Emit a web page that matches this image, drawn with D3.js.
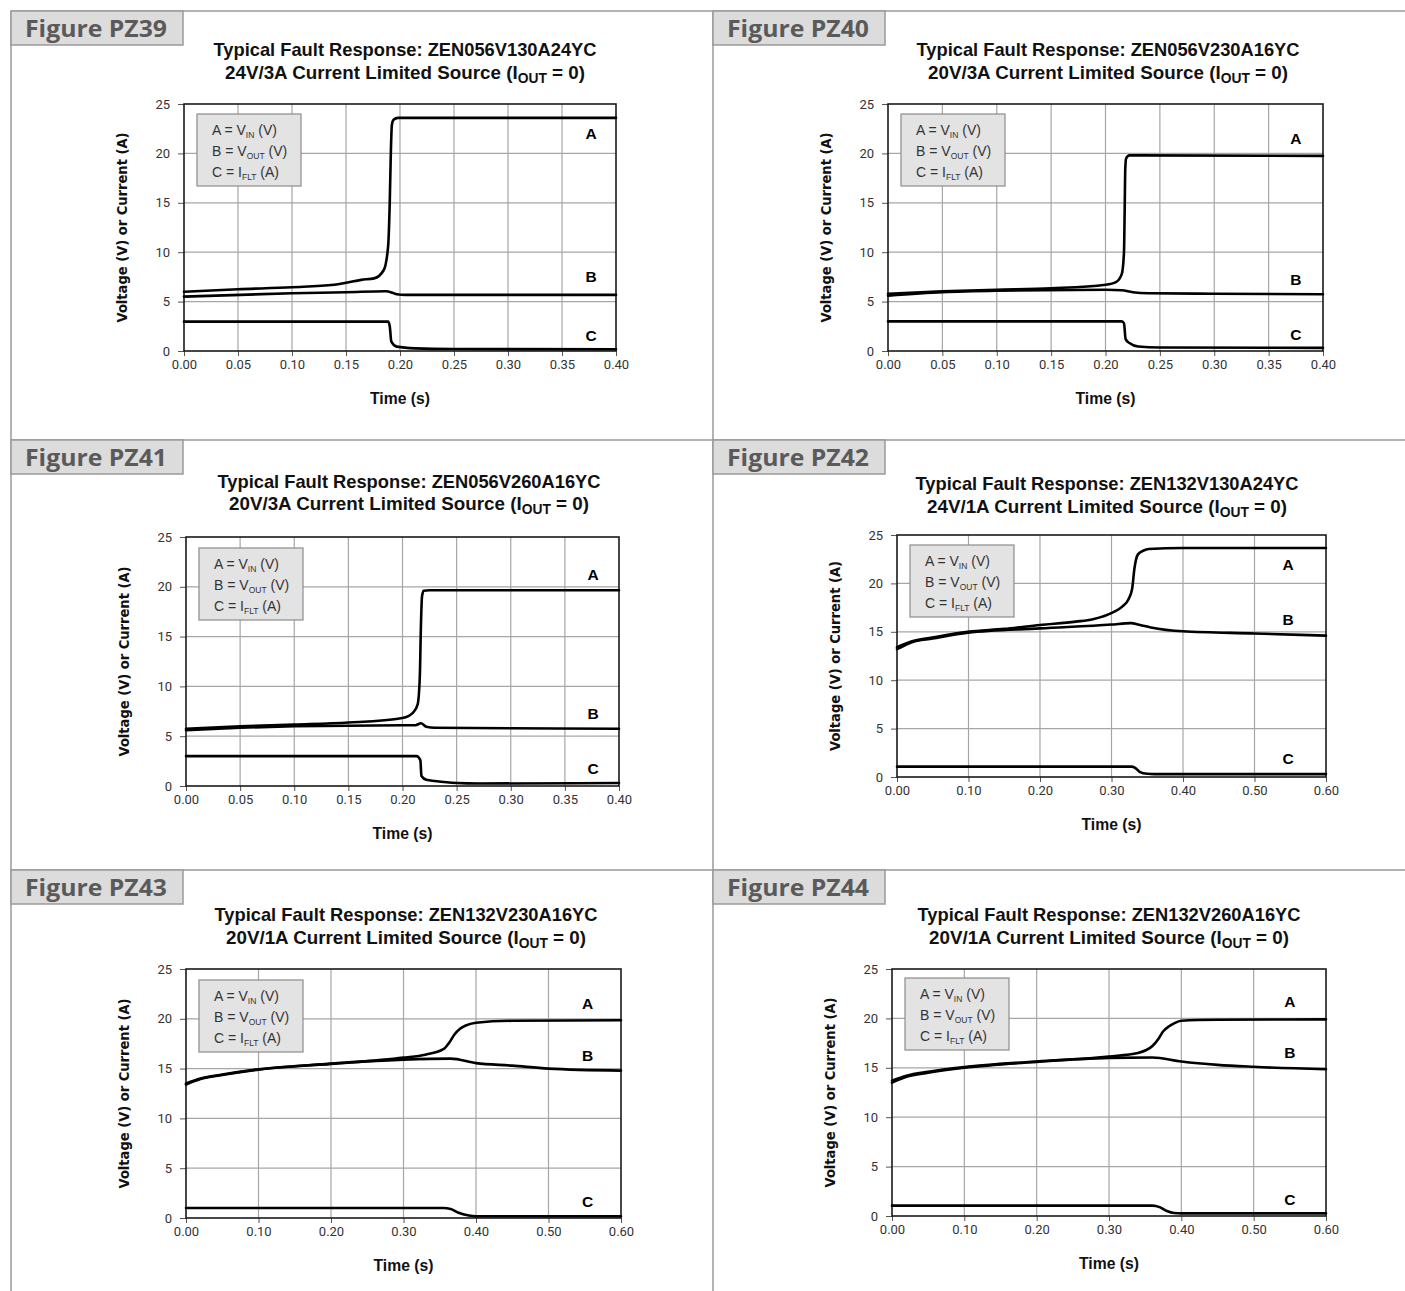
<!DOCTYPE html>
<html><head><meta charset="utf-8">
<script src="https://cdn.jsdelivr.net/npm/d3@7"></script>
<style>body{margin:0;background:#fff}svg{display:block}</style>
</head><body>
<svg id="c" width="1405" height="1291"></svg>
<script>
// ---------- DATA ----------
const figureNames = ["PZ39", "PZ40", "PZ41", "PZ42", "PZ43", "PZ44"];
const partNumbers = ["ZEN056V130A24YC", "ZEN056V230A16YC", "ZEN056V260A16YC", "ZEN132V130A24YC", "ZEN132V230A16YC", "ZEN132V260A16YC"];
const sourceRatings = ["24V/3A", "20V/3A", "20V/3A", "24V/1A", "20V/1A", "20V/1A"];
const xMaxes = [0.4, 0.4, 0.4, 0.6, 0.6, 0.6];
const xTicksShort = [0, 0.05, 0.10, 0.15, 0.20, 0.25, 0.30, 0.35, 0.40];
const xTicksLong = [0, 0.10, 0.20, 0.30, 0.40, 0.50, 0.60];
const yTicks = [0, 5, 10, 15, 20, 25];
const seriesNames = ["A", "B", "C"];
const legendMain = ["A = V", "B = V", "C = I"];
const legendSub = ["IN", "OUT", "FLT"];
const legendUnit = ["(V)", "(V)", "(A)"];

// PZ39
const pz39_tA = [0, 0.05, 0.10, 0.139, 0.150, 0.164, 0.176, 0.185, 0.189, 0.1905, 0.1915, 0.1925, 0.194, 0.198, 0.22, 0.40];
const pz39_vA = [6.0, 6.25, 6.45, 6.7, 6.9, 7.2, 7.35, 8.2, 10.6, 15, 20, 22.9, 23.4, 23.6, 23.6, 23.6];
const pz39_tB = [0, 0.10, 0.15, 0.187, 0.193, 0.197, 0.205, 0.40];
const pz39_vB = [5.5, 5.85, 5.95, 6.05, 5.9, 5.74, 5.68, 5.68];
const pz39_tC = [0, 0.189, 0.1905, 0.192, 0.197, 0.214, 0.25, 0.40];
const pz39_vC = [2.97, 2.97, 2.5, 0.95, 0.44, 0.27, 0.2, 0.17];
// PZ40
const pz40_tA = [0, 0.05, 0.10, 0.15, 0.20, 0.21, 0.215, 0.217, 0.2176, 0.2182, 0.219, 0.222, 0.23, 0.40];
const pz40_vA = [5.8, 6.05, 6.2, 6.35, 6.7, 7.0, 7.8, 10, 14, 18.5, 19.5, 19.8, 19.8, 19.75];
const pz40_tB = [0, 0.05, 0.10, 0.20, 0.215, 0.225, 0.24, 0.30, 0.40];
const pz40_vB = [5.6, 5.95, 6.1, 6.2, 6.15, 5.95, 5.85, 5.8, 5.75];
const pz40_tC = [0, 0.215, 0.217, 0.2185, 0.222, 0.23, 0.25, 0.40];
const pz40_vC = [3.0, 3.0, 2.8, 1.2, 0.8, 0.45, 0.35, 0.32];
// PZ41
const pz41_tA = [0, 0.05, 0.10, 0.15, 0.20, 0.21, 0.214, 0.216, 0.217, 0.218, 0.2195, 0.225, 0.40];
const pz41_vA = [5.75, 6.0, 6.17, 6.37, 6.83, 7.4, 8.2, 11, 16, 19.0, 19.6, 19.65, 19.65];
const pz41_tB = [0, 0.05, 0.10, 0.20, 0.212, 0.217, 0.222, 0.23, 0.30, 0.40];
const pz41_vB = [5.6, 5.85, 6.0, 6.1, 6.1, 6.3, 5.95, 5.85, 5.8, 5.75];
const pz41_tC = [0, 0.213, 0.2165, 0.2175, 0.222, 0.23, 0.25, 0.27, 0.40];
const pz41_vC = [3.0, 3.0, 2.6, 1.0, 0.62, 0.5, 0.3, 0.25, 0.3];
// PZ42
const pz42_tA = [0, 0.02, 0.049, 0.099, 0.15, 0.20, 0.25, 0.274, 0.302, 0.315, 0.324, 0.329, 0.332, 0.337, 0.345, 0.352, 0.40, 0.60];
const pz42_vA = [13.4, 14.0, 14.4, 15.0, 15.3, 15.7, 16.05, 16.3, 17.0, 17.6, 18.4, 19.5, 21.5, 23.0, 23.4, 23.55, 23.65, 23.65];
const pz42_tB = [0, 0.02, 0.05, 0.099, 0.20, 0.30, 0.327, 0.34, 0.355, 0.40, 0.50, 0.60];
const pz42_vB = [13.2, 13.9, 14.3, 14.9, 15.35, 15.75, 15.9, 15.7, 15.45, 15.05, 14.83, 14.6];
const pz42_tC = [0, 0.328, 0.333, 0.34, 0.35, 0.36, 0.60];
const pz42_vC = [1.07, 1.07, 0.95, 0.5, 0.33, 0.3, 0.3];
// PZ43
const pz43_tA = [0, 0.02, 0.05, 0.10, 0.20, 0.30, 0.33, 0.355, 0.363, 0.37, 0.378, 0.385, 0.40, 0.45, 0.60];
const pz43_vA = [13.5, 14.0, 14.4, 14.93, 15.47, 16.1, 16.4, 16.95, 17.6, 18.4, 19.0, 19.3, 19.6, 19.8, 19.85];
const pz43_tB = [0, 0.02, 0.05, 0.10, 0.20, 0.30, 0.365, 0.40, 0.45, 0.50, 0.60];
const pz43_vB = [13.4, 13.95, 14.35, 14.9, 15.5, 15.9, 16.0, 15.55, 15.3, 15.0, 14.8];
const pz43_tC = [0, 0.355, 0.365, 0.375, 0.39, 0.40, 0.60];
const pz43_vC = [1.0, 1.0, 0.9, 0.55, 0.25, 0.18, 0.17];
// PZ44
const pz44_tA = [0, 0.02, 0.05, 0.10, 0.20, 0.30, 0.34, 0.36, 0.368, 0.375, 0.383, 0.39, 0.40, 0.45, 0.60];
const pz44_vA = [13.7, 14.2, 14.6, 15.07, 15.64, 16.15, 16.5, 17.2, 17.9, 18.7, 19.2, 19.5, 19.76, 19.86, 19.9];
const pz44_tB = [0, 0.02, 0.05, 0.10, 0.20, 0.30, 0.36, 0.40, 0.45, 0.50, 0.60];
const pz44_vB = [13.5, 14.1, 14.5, 15.0, 15.6, 16.0, 16.05, 15.64, 15.3, 15.1, 14.85];
const pz44_tC = [0, 0.36, 0.37, 0.38, 0.39, 0.40, 0.60];
const pz44_vC = [1.05, 1.05, 0.9, 0.5, 0.3, 0.27, 0.27];

// curve label anchors (time, value) for A, B, C
const labelTimes = [0.377, 0.375, 0.376, 0.547, 0.554, 0.55];
const labelValsA = [22.1, 21.6, 21.3, 22.0, 21.6, 21.8];
const labelValsB = [7.6, 7.3, 7.3, 16.3, 16.4, 16.6];
const labelValsC = [1.6, 1.7, 1.8, 2.0, 1.7, 1.7];

// ---------- LAYOUT ----------
const layout = [
  {ox: 11, oy: 11, x0: 184, x1: 616, y0: 104, y1: 351, legY: 114, tx: 405},
  {ox: 713, oy: 11, x0: 888, x1: 1323, y0: 104, y1: 351, legY: 114, tx: 1108},
  {ox: 11, oy: 440, x0: 186, x1: 619, y0: 537, y1: 786, legY: 548, tx: 409},
  {ox: 713, oy: 440, x0: 897, x1: 1326, y0: 535, y1: 777, legY: 545, tx: 1107},
  {ox: 11, oy: 870, x0: 186, x1: 621, y0: 969, y1: 1218, legY: 980, tx: 406},
  {ox: 713, oy: 870, x0: 892, x1: 1326, y0: 969, y1: 1216, legY: 978, tx: 1109}
];
const titleYs = [[49, 72], [49, 72], [481, 503], [483, 506], [914, 937], [914, 937]];

const seriesT = [[pz39_tA, pz39_tB, pz39_tC], [pz40_tA, pz40_tB, pz40_tC], [pz41_tA, pz41_tB, pz41_tC],
                 [pz42_tA, pz42_tB, pz42_tC], [pz43_tA, pz43_tB, pz43_tC], [pz44_tA, pz44_tB, pz44_tC]];
const seriesV = [[pz39_vA, pz39_vB, pz39_vC], [pz40_vA, pz40_vB, pz40_vC], [pz41_vA, pz41_vB, pz41_vC],
                 [pz42_vA, pz42_vB, pz42_vC], [pz43_vA, pz43_vB, pz43_vC], [pz44_vA, pz44_vB, pz44_vC]];

const svg = d3.select("#c");
const FRAME = "#9a9a9a";
const sans = "'Liberation Sans', Arial, sans-serif";

// panel separators
const sep = svg.append("g").attr("stroke", FRAME).attr("stroke-width", 1.5);
[11, 440, 870].forEach(y => sep.append("line").attr("x1", 11).attr("x2", 1405).attr("y1", y).attr("y2", y));
[11, 713].forEach(x => sep.append("line").attr("x1", x).attr("x2", x).attr("y1", 11).attr("y2", 1291));

figureNames.forEach((name, i) => {
  const L = layout[i];
  const g = svg.append("g");
  const x = d3.scaleLinear().domain([0, xMaxes[i]]).range([L.x0, L.x1]);
  const y = d3.scaleLinear().domain([0, 25]).range([L.y1, L.y0]);
  const xt = xMaxes[i] > 0.45 ? xTicksLong : xTicksShort;

  // figure label box
  g.append("rect").attr("x", L.ox).attr("y", L.oy).attr("width", 172).attr("height", 34)
    .attr("fill", "#dcdcdc").attr("stroke", FRAME).attr("stroke-width", 1.5);
  g.append("text").attr("x", L.ox + 14).attr("y", L.oy + 26).text("Figure " + name)
    .attr("font-family", "'Open Sans', sans-serif").attr("font-weight", 700).attr("font-size", 24)
    .attr("textLength", 142).attr("lengthAdjust", "spacingAndGlyphs")
    .attr("fill", "#5a5a5a");

  // titles (condensed bold)
  g.append("text").attr("x", L.tx).attr("y", titleYs[i][0] + 7).attr("text-anchor", "middle")
    .attr("font-family", sans).attr("font-weight", 700).attr("font-size", 19).attr("fill", "#111")
    .attr("textLength", 383).attr("lengthAdjust", "spacingAndGlyphs")
    .text("Typical Fault Response: " + partNumbers[i]);
  const t2 = g.append("text").attr("x", L.tx).attr("y", titleYs[i][1] + 7).attr("text-anchor", "middle")
    .attr("font-family", sans).attr("font-weight", 700).attr("font-size", 19).attr("fill", "#111")
    .attr("textLength", 360).attr("lengthAdjust", "spacingAndGlyphs");
  t2.append("tspan").text(sourceRatings[i] + " Current Limited Source (I");
  t2.append("tspan").text("OUT").attr("font-size", 14).attr("dy", 4);
  t2.append("tspan").text(" = 0)").attr("dy", -4);

  // grid
  const grid = g.append("g").attr("stroke", "#a6a6a6").attr("stroke-width", 1.2);
  grid.selectAll(".vx").data(xt.slice(1, -1)).join("line")
    .attr("x1", d => x(d)).attr("x2", d => x(d)).attr("y1", L.y0).attr("y2", L.y1);
  grid.selectAll(".hy").data(yTicks.slice(1, -1)).join("line")
    .attr("y1", d => y(d)).attr("y2", d => y(d)).attr("x1", L.x0).attr("x2", L.x1);

  // axes
  const xa = g.append("g").attr("transform", `translate(0,${L.y1})`)
    .call(d3.axisBottom(x).tickValues(xt).tickFormat(d3.format(".2f")).tickSize(5).tickPadding(4));
  const ya = g.append("g").attr("transform", `translate(${L.x0},0)`)
    .call(d3.axisLeft(y).tickValues(yTicks).tickSize(6).tickPadding(8));
  [xa, ya].forEach(a => {
    a.select(".domain").remove();
    a.selectAll("line").attr("stroke", "#555");
    a.selectAll("text").attr("font-family", "Roboto, sans-serif").attr("font-size", 13)
      .attr("font-weight", 400).attr("fill", "#333");
  });

  // frame
  g.append("rect").attr("x", L.x0).attr("y", L.y0).attr("width", L.x1 - L.x0).attr("height", L.y1 - L.y0)
    .attr("fill", "none").attr("stroke", "#1a1a1a").attr("stroke-width", 1.6);

  // axis titles
  g.append("text").attr("x", (L.x0 + L.x1) / 2).attr("y", L.y1 + 53).attr("text-anchor", "middle")
    .attr("font-family", sans).attr("font-weight", 700).attr("font-size", 17).attr("fill", "#111")
    .attr("textLength", 60).attr("lengthAdjust", "spacingAndGlyphs")
    .text("Time (s)");
  g.append("text").attr("transform", `translate(${L.x0 - 57},${(L.y0 + L.y1) / 2}) rotate(-90)`)
    .attr("text-anchor", "middle").attr("font-family", "'DejaVu Sans', sans-serif")
    .attr("font-weight", 700).attr("font-size", 13.5).attr("fill", "#111")
    .attr("textLength", 190).attr("lengthAdjust", "spacingAndGlyphs")
    .text("Voltage (V) or Current (A)");

  // legend
  const lx = L.x0 + 13, ly = L.legY;
  g.append("rect").attr("x", lx).attr("y", ly).attr("width", 104).attr("height", 72)
    .attr("fill", "#e3e3e3").attr("stroke", "#8c8c8c").attr("stroke-width", 1.2);
  legendMain.forEach((m, k) => {
    const t = g.append("text").attr("x", lx + 15).attr("y", ly + 21 + k * 21)
      .attr("font-family", sans).attr("font-weight", 400).attr("font-size", 14).attr("fill", "#333");
    t.append("tspan").text(m);
    t.append("tspan").text(legendSub[k]).attr("font-size", 8.5).attr("dy", 3);
    t.append("tspan").text(" " + legendUnit[k]).attr("dy", -3);
  });

  // series
  const line = d3.line().x(d => x(d[0])).y(d => y(d[1])).curve(d3.curveMonotoneX);
  seriesT[i].forEach((ts, k) => {
    const pts = ts.map((t, j) => [t, seriesV[i][k][j]]);
    g.append("path").attr("d", line(pts)).attr("fill", "none").attr("stroke", "#000")
      .attr("stroke-width", 2.6).attr("stroke-linejoin", "round").attr("stroke-linecap", "round");
  });

  // curve labels
  const lv = [labelValsA[i], labelValsB[i], labelValsC[i]];
  seriesNames.forEach((s, k) => {
    g.append("text").attr("x", x(labelTimes[i])).attr("y", y(lv[k]) + 6).attr("text-anchor", "middle")
      .attr("font-family", sans).attr("font-weight", 700)
      .attr("font-size", 15.5).attr("fill", "#000").text(s);
  });
});
</script>
</body></html>
